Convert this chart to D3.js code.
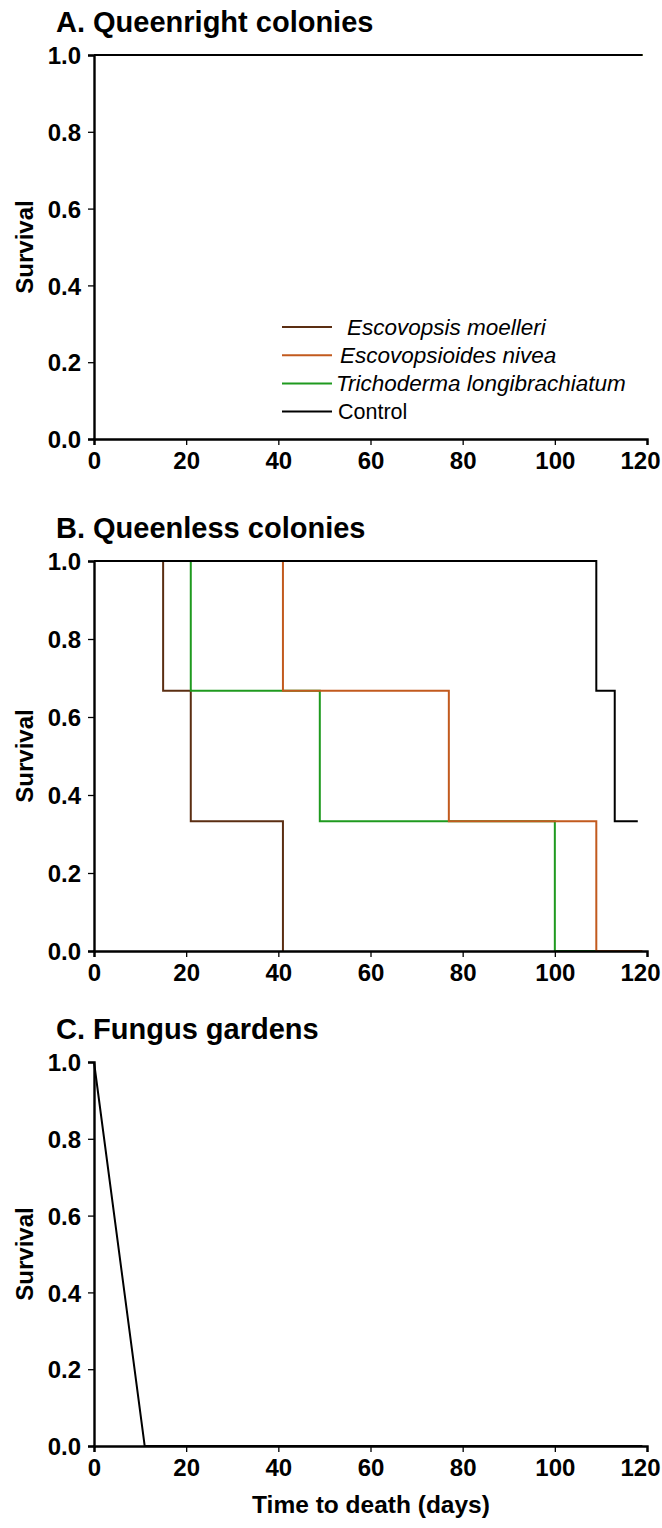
<!DOCTYPE html>
<html>
<head>
<meta charset="utf-8">
<script src="https://cdn.jsdelivr.net/npm/d3@7"></script>
<style>
  body { margin: 0; background: #fff; }
  text { font-family: "Liberation Sans", Arial, sans-serif; }
</style>
</head>
<body>
<svg id="chart" width="662" height="1528"></svg>
<script>
// series names and colours
var seriesNames = ["Escovopsis moelleri", "Escovopsioides nivea", "Trichoderma longibrachiatum", "Control"];
var seriesColors = ["#5b2e12", "#c25a1e", "#1f9a1f", "#000000"];

// x / y ticks
var xTicks = [0, 20, 40, 60, 80, 100, 120];
var yTicks = [0, 0.2, 0.4, 0.6, 0.8, 1.0];

// survival steps [days, survival] per panel
var queenrightMoelleri = [[0, 1], [119, 1]];
var queenrightNivea = [[0, 1], [119, 1]];
var queenrightTrichoderma = [[0, 1], [119, 1]];
var queenrightControl = [[0, 1], [119, 1]];

var queenlessMoelleri = [[0, 1], [15, 0.667], [21, 0.333], [41, 0], [41, 0]];
var queenlessNivea = [[0, 1], [41, 0.667], [77, 0.333], [109, 0], [119, 0]];
var queenlessTrichoderma = [[0, 1], [21, 0.667], [49, 0.333], [100, 0], [109, 0]];
var queenlessControl = [[0, 1], [109, 0.667], [113, 0.333], [118, 0.333]];

var gardensControl = [[0, 1], [11, 0], [119, 0]];

var svg = d3.select("#chart");

var x = d3.scaleLinear().domain([0, 120]).range([94, 647]);

function drawPanel(top, bottom, title, series, stepped, showLegend, showXLabel) {
    var y = d3.scaleLinear().domain([0, 1]).range([bottom, top]);
    var g = svg.append("g");

    //panel title
    g.append("text")
        .attr("x", 56).attr("y", top - 23)
        .attr("font-size", 29).attr("font-weight", "bold")
        .text(title);

    var line = d3.line()
        .x(function (d) { return x(d[0]); })
        .y(function (d) { return y(d[1]); })
        .curve(stepped ? d3.curveStepAfter : d3.curveLinear);

    series.forEach(function (s) {
        g.append("path")
            .attr("d", line(s.data))
            .attr("fill", "none")
            .attr("stroke", s.color)
            .attr("stroke-width", 2);
    });

    //axes
    var yAxis = d3.axisLeft(y).tickValues(yTicks).tickSize(6).tickPadding(7)
        .tickFormat(d3.format(".1f"));
    var xAxis = d3.axisBottom(x).tickValues(xTicks).tickSize(6).tickPadding(4)
        .tickFormat(d3.format("d"));

    var ya = g.append("g").attr("transform", "translate(" + x(0) + ",0)").call(yAxis);
    var xa = g.append("g").attr("transform", "translate(0," + bottom + ")").call(xAxis);

    [ya, xa].forEach(function (a) {
        a.select(".domain").attr("stroke-width", 2.4);
        a.selectAll(".tick line").attr("stroke-width", 1.3);
        a.selectAll(".tick text")
            .attr("font-family", "Liberation Sans, Arial, sans-serif")
            .attr("font-size", 24).attr("font-weight", "bold").attr("fill", "#000");
    });
    ya.selectAll(".tick text").attr("dy", "0.36em");
    xa.selectAll(".tick text").attr("dy", "0.85em");
    // last label sits a little left so it fits the page
    xa.selectAll(".tick text").filter(function (d) { return d === 120; }).attr("x", -7);

    g.append("text")
        .attr("transform", "translate(33," + ((top + bottom) / 2) + ") rotate(-90)")
        .attr("text-anchor", "middle")
        .attr("font-size", 24).attr("font-weight", "bold")
        .text("Survival");

    if (showXLabel) {
        g.append("text")
            .attr("x", 371).attr("y", bottom + 67)
            .attr("text-anchor", "middle")
            .attr("font-size", 24.5).attr("font-weight", "bold")
            .text("Time to death (days)");
    }

    if (showLegend) {
        var textX = [347, 340, 336, 338];
        var leg = g.append("g");
        seriesNames.forEach(function (name, i) {
            var ly = 327 + i * 28.2;
            leg.append("line")
                .attr("x1", 282).attr("x2", 332)
                .attr("y1", ly).attr("y2", ly)
                .attr("stroke", seriesColors[i]).attr("stroke-width", 2);
            leg.append("text")
                .attr("x", textX[i]).attr("y", ly + 7.5)
                .attr("font-size", i < 3 ? 22.5 : 21.5)
                .attr("font-style", i < 3 ? "italic" : "normal")
                .text(name);
        });
    }
}

drawPanel(55, 439, "A. Queenright colonies", [
    { data: queenrightMoelleri, color: seriesColors[0] },
    { data: queenrightNivea, color: seriesColors[1] },
    { data: queenrightTrichoderma, color: seriesColors[2] },
    { data: queenrightControl, color: seriesColors[3] }
], true, true, false);

drawPanel(561, 951, "B. Queenless colonies", [
    { data: queenlessMoelleri, color: seriesColors[0] },
    { data: queenlessTrichoderma, color: seriesColors[2] },
    { data: queenlessNivea, color: seriesColors[1] },
    { data: queenlessControl, color: seriesColors[3] }
], true, false, false);

drawPanel(1062, 1446, "C. Fungus gardens", [
    { data: gardensControl, color: seriesColors[3] }
], false, false, true);
</script>
</body>
</html>
